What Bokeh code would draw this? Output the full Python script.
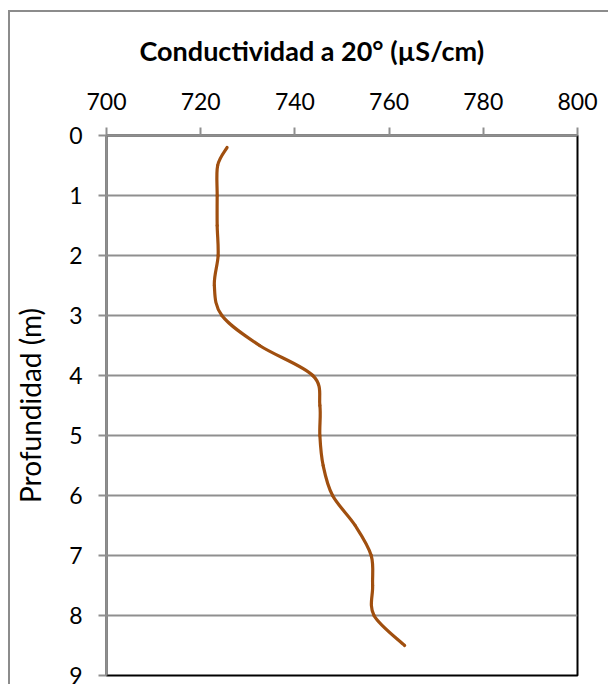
from bokeh.plotting import figure
from bokeh.models import Range1d, FixedTicker, Title
from bokeh.embed import file_html
from bokeh.resources import INLINE

# Data: depth (m) and conductivity at 20 °C (µS/cm)
depth = [0.2, 0.5, 1.0, 1.5, 2.0, 2.5, 3.0, 3.5, 4.0, 4.5, 5.0, 5.5, 6.0, 6.5, 7.0, 7.5, 8.0, 8.5]
conductivity = [725.6, 723.6, 723.5, 723.5, 723.7, 722.9, 724.5, 732.5, 743.8, 745.3, 745.3, 746.0, 748.0,
                752.8, 756.2, 756.5, 756.8, 763.3]
x_ticks = [700, 720, 740, 760, 780, 800]
y_ticks = [0, 1, 2, 3, 4, 5, 6, 7, 8, 9]
x_title = "Conductividad a 20° (µS/cm)"
y_title = "Profundidad (m)"

FONT = "Lato"
GRAY = "#8f8f8f"
LINE = "#a04f0f"

p = figure(width=598, height=672, output_backend="svg", toolbar_location=None,
           x_range=Range1d(700, 800), y_range=Range1d(9, 0),
           x_axis_location="above", min_border_left=96, min_border_top=123,
           min_border_right=31, min_border_bottom=9,
           frame_width=471, frame_height=540,
           styles={"margin-left": "8px", "margin-top": "10px",
                   "border-left": "2px solid #8c8c8c", "border-top": "2px solid #8c8c8c"})

p.background_fill_color = "white"
p.border_fill_color = "white"
p.outline_line_color = "black"
p.outline_line_width = 2

p.xgrid.visible = False
p.ygrid.grid_line_color = GRAY
p.ygrid.grid_line_width = 2
p.ygrid.ticker = FixedTicker(ticks=y_ticks)

for ax in (p.xaxis[0], p.yaxis[0]):
    ax.axis_line_color = GRAY
    ax.axis_line_width = 2
    ax.major_tick_line_color = GRAY
    ax.major_tick_line_width = 2
    ax.major_tick_out = 8
    ax.major_tick_in = 0
    ax.minor_tick_line_color = None
    ax.major_label_text_font = FONT
    ax.major_label_text_font_size = "23px"
    ax.major_label_text_color = "black"

p.xaxis[0].ticker = FixedTicker(ticks=x_ticks)
p.yaxis[0].ticker = FixedTicker(ticks=y_ticks)
p.xaxis[0].major_label_standoff = 18
p.yaxis[0].major_label_standoff = 16

p.yaxis[0].axis_label = y_title
p.yaxis[0].axis_label_text_font = FONT
p.yaxis[0].axis_label_text_font_size = "28px"
p.yaxis[0].axis_label_text_font_style = "normal"
p.yaxis[0].axis_label_text_color = "black"
p.yaxis[0].axis_label_standoff = 19

# Smoothed line (Excel-style Catmull-Rom Bezier through the data points)
n = len(depth)
x0, y0, x1, y1, cx0, cy0, cx1, cy1 = [], [], [], [], [], [], [], []
for i in range(n - 1):
    xm1, ym1 = (conductivity[i - 1], depth[i - 1]) if i > 0 else (conductivity[i], depth[i])
    xa, ya = conductivity[i], depth[i]
    xb, yb = conductivity[i + 1], depth[i + 1]
    xp2, yp2 = (conductivity[i + 2], depth[i + 2]) if i + 2 < n else (xb, yb)
    x0.append(xa); y0.append(ya); x1.append(xb); y1.append(yb)
    cx0.append(xa + (xb - xm1) / 6.0); cy0.append(ya + (yb - ym1) / 6.0)
    cx1.append(xb - (xp2 - xa) / 6.0); cy1.append(yb - (yp2 - ya) / 6.0)

p.bezier(x0=x0, y0=y0, x1=x1, y1=y1, cx0=cx0, cy0=cy0, cx1=cx1, cy1=cy1,
         line_color=LINE, line_width=3.2, line_cap="round")

title = Title(text=x_title, align="left", offset=33, vertical_align="top", standoff=42,
              text_font=FONT, text_font_size="27px", text_font_style="bold", text_color="black")
p.add_layout(title, "above")

open("out.html", "w").write(file_html(p, INLINE))
